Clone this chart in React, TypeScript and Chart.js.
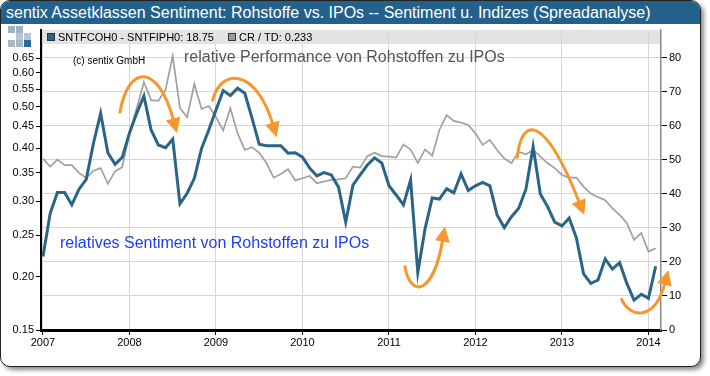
import React, { useEffect, useRef } from "react";
import { Chart, registerables } from "chart.js";

Chart.register(...registerables);

// ---- data ----
const startYear = 2007;
const yearTicks = [2007, 2008, 2009, 2010, 2011, 2012, 2013, 2014];
const leftTicks = [0.15, 0.2, 0.25, 0.3, 0.35, 0.4, 0.45, 0.5, 0.55, 0.6, 0.65];
const rightTicks = [0, 10, 20, 30, 40, 50, 60, 70, 80];

// SNTFCOH0 - SNTFIPH0 (right axis), monthly
const sentimentSpread = [
  21.6, 34.3, 40.4, 40.4, 36.8, 41.4, 44.3, 54.9, 63.7, 52.1, 48.7, 50.8,
  57.9, 63.7, 68.8, 58.8, 54.4, 53.6, 56.1, 37.1, 40.2, 44.6, 53.4, 58.8,
  64.7, 70.4, 68.9, 71.1, 69.6, 62.3, 54.6, 54.2, 54.2, 54.2, 52.0, 52.1,
  50.8, 47.6, 45.3, 46.3, 45.6, 42.0, 31.7, 42.6, 45.6, 48.5, 50.6, 49.1,
  42.4, 39.7, 36.8, 44.1, 16.9, 29.7, 38.8, 38.5, 41.5, 40.3, 45.9, 41.0,
  42.4, 43.4, 42.4, 33.8, 30.1, 33.3, 35.8, 41.4, 53.9, 40.0, 36.3, 31.7,
  30.6, 32.9, 27.1, 16.5, 13.7, 14.7, 20.9, 17.9, 19.8, 13.7, 8.8, 10.5,
  9.3, 18.75,
];

// CR / TD (left log axis), monthly
const performanceRatio = [
  0.378, 0.362, 0.376, 0.365, 0.365, 0.35, 0.34, 0.354, 0.359, 0.33, 0.353, 0.361,
  0.433, 0.496, 0.571, 0.518, 0.516, 0.547, 0.657, 0.496, 0.473, 0.565, 0.494, 0.502,
  0.473, 0.44, 0.496, 0.433, 0.396, 0.402, 0.39, 0.369, 0.341, 0.348, 0.357, 0.336,
  0.34, 0.344, 0.331, 0.334, 0.337, 0.338, 0.34, 0.362, 0.36, 0.383, 0.39, 0.383,
  0.382, 0.38, 0.408, 0.397, 0.369, 0.397, 0.384, 0.441, 0.478, 0.463, 0.459, 0.453,
  0.433, 0.407, 0.418, 0.396, 0.378, 0.369, 0.392, 0.387, 0.396, 0.382, 0.369, 0.359,
  0.346, 0.341, 0.341, 0.325, 0.313, 0.307, 0.302, 0.289, 0.279, 0.267, 0.244, 0.253,
  0.229, 0.233,
];

const monthPositions = sentimentSpread.map((_, i) => startYear + i / 12);

// annotation arrows: [start, ctrl1, ctrl2, tip] in (year, right-axis value)
const arrowPaths: number[][][] = [
  [[2007.89, 64.1], [2007.983, 77.9], [2008.329, 78.8], [2008.549, 57.9]],
  [[2008.962, 67.6], [2009.046, 76.5], [2009.451, 77.9], [2009.702, 56.7]],
  [[2011.185, 18.6], [2011.243, 9.7], [2011.509, 9.7], [2011.647, 30.4]],
  [[2012.483, 50.8], [2012.538, 63.2], [2012.803, 63.2], [2013.258, 33.8]],
  [[2013.69, 9.0], [2013.786, 3.5], [2014.075, 2.4], [2014.229, 17.6]],
];

const titleText = "sentix Assetklassen Sentiment: Rohstoffe vs. IPOs -- Sentiment u. Indizes (Spreadanalyse)";
const legendItems = [
  { label: "SNTFCOH0 - SNTFIPH0: 18.75", color: "#2a6486" },
  { label: "CR / TD: 0.233", color: "#9a9a9a" },
];

const FONT = 'Arial, "Liberation Sans", sans-serif';

export default function App() {
  const canvasRef = useRef<HTMLCanvasElement | null>(null);

  useEffect(() => {
    const canvas = canvasRef.current;
    if (!canvas) return;

    const overlay = {
      id: "overlay",
      beforeDraw(chart: any) {
        const { ctx, chartArea } = chart;
        ctx.save();
        ctx.fillStyle = "#e3e3e3";
        ctx.fillRect(chartArea.left + 1, chartArea.top, chartArea.right - chartArea.left - 1, 14);
        ctx.restore();
      },
      afterDraw(chart: any) {
        const { ctx, chartArea } = chart;
        const xs = chart.scales.x;
        const yr = chart.scales.yR;
        ctx.save();
        // legend entries
        ctx.font = `11px ${FONT}`;
        ctx.textBaseline = "middle";
        let lx = chartArea.left + 6;
        const ly = chartArea.top + 7;
        legendItems.forEach((it, idx) => {
          const w = ctx.measureText(it.label).width;
          ctx.fillStyle = "#e3e3e3";
          ctx.fillRect(lx - 2, chartArea.top, w + 18, 14);
          ctx.fillStyle = it.color;
          ctx.fillRect(lx, ly - 4, 8, 8);
          ctx.strokeStyle = "#333";
          ctx.lineWidth = 1;
          ctx.strokeRect(lx + 0.5, ly - 3.5, 7, 7);
          ctx.fillStyle = "#000";
          ctx.fillText(it.label, lx + 11, ly + 0.5);
          lx += idx === 0 ? 181 : 0;
        });

        // texts
        ctx.textBaseline = "middle";
        ctx.font = `10px ${FONT}`;
        ctx.fillStyle = "#000";
        ctx.fillText("(c) sentix GmbH", xs.getPixelForValue(2007.347), yr.getPixelForValue(79.1));
        ctx.font = `16px ${FONT}`;
        ctx.fillStyle = "#555";
        ctx.fillText("relative Performance von Rohstoffen zu IPOs", xs.getPixelForValue(2008.63), yr.getPixelForValue(80));
        ctx.fillStyle = "#1f3ef2";
        ctx.fillText("relatives Sentiment von Rohstoffen zu IPOs", xs.getPixelForValue(2007.197), yr.getPixelForValue(25.3));

        // arrows
        ctx.strokeStyle = "#f7962e";
        ctx.fillStyle = "#f7962e";
        ctx.lineWidth = 3;
        ctx.lineCap = "round";
        arrowPaths.forEach((p) => {
          const pts = p.map(([a, b]) => ({ x: xs.getPixelForValue(a), y: yr.getPixelForValue(b) }));
          const [s, c1, c2, e] = pts;
          const dx = e.x - c2.x;
          const dy = e.y - c2.y;
          const len = Math.hypot(dx, dy) || 1;
          const ux = dx / len;
          const uy = dy / len;
          const head = 15;
          const half = 7.5;
          const bx = e.x - ux * head;
          const by = e.y - uy * head;
          ctx.beginPath();
          ctx.moveTo(s.x, s.y);
          ctx.bezierCurveTo(c1.x, c1.y, c2.x, c2.y, bx + ux * 2, by + uy * 2);
          ctx.stroke();
          ctx.beginPath();
          ctx.moveTo(e.x, e.y);
          ctx.lineTo(bx - uy * half, by + ux * half);
          ctx.lineTo(bx + uy * half, by - ux * half);
          ctx.closePath();
          ctx.fill();
        });
        ctx.restore();
      },
    };

    const tickFont = { family: FONT, size: 11 };

    const chart = new Chart(canvas, {
      type: "line",
      data: {
        datasets: [
          {
            label: "SNTFCOH0 - SNTFIPH0",
            data: sentimentSpread.map((v, i) => ({ x: monthPositions[i], y: v })),
            yAxisID: "yR",
            borderColor: "#2a6486",
            borderWidth: 3,
            pointRadius: 0,
            tension: 0,
            order: 1,
          },
          {
            label: "CR / TD",
            data: performanceRatio.map((v, i) => ({ x: monthPositions[i], y: v })),
            yAxisID: "yL",
            borderColor: "#a0a0a0",
            borderWidth: 1.7,
            pointRadius: 0,
            tension: 0,
            order: 2,
          },
        ],
      },
      options: {
        animation: false,
        responsive: false,
        maintainAspectRatio: false,
        layout: { padding: { left: 5, right: 19, top: 30, bottom: 26 } },
        plugins: { legend: { display: false }, tooltip: { enabled: false }, title: { display: false } },
        scales: {
          x: {
            type: "linear",
            min: 2006.977,
            max: 2014.145,
            afterBuildTicks: (s: any) => {
              s.ticks = yearTicks.map((v) => ({ value: v }));
            },
            afterFit: (s: any) => {
              s.height = 20;
            },
            ticks: {
              callback: (v: any) => String(v),
              font: tickFont,
              color: "#000",
              maxRotation: 0,
              autoSkip: false,
              padding: 1,
            },
            grid: { color: "#d6d6d6", lineWidth: 1, tickColor: "#000", tickLength: 5 },
            border: { color: "#000", width: 3 },
          },
          yL: {
            type: "logarithmic",
            position: "left",
            min: 0.15,
            max: 0.756,
            afterBuildTicks: (s: any) => {
              s.ticks = leftTicks.map((v) => ({ value: v }));
            },
            afterFit: (s: any) => {
              s.width = 36;
            },
            ticks: {
              callback: (v: any) => Number(v).toFixed(2),
              font: tickFont,
              color: "#000",
              padding: 2,
              autoSkip: false,
            },
            grid: { drawOnChartArea: false, tickColor: "#000", tickLength: 5 },
            border: { color: "#000", width: 2 },
          },
          yR: {
            type: "linear",
            position: "right",
            min: 0,
            max: 88.2,
            afterBuildTicks: (s: any) => {
              s.ticks = rightTicks.map((v) => ({ value: v }));
            },
            afterFit: (s: any) => {
              s.width = 30;
            },
            ticks: {
              callback: (v: any) => String(v),
              font: tickFont,
              color: "#000",
              padding: 2,
              autoSkip: false,
            },
            grid: { color: "#d6d6d6", lineWidth: 1, tickColor: "#000", tickLength: 6 },
            border: { color: "#8a8a8a", width: 1.5 },
          },
        },
      },
      plugins: [overlay],
    } as any);

    return () => chart.destroy();
  }, []);

  const sq = (x: number, y: number, c: string) => (
    <div style={{ position: "absolute", left: x, top: y, width: 7, height: 7, background: c }} />
  );

  return (
    <div style={{ position: "fixed", left: 0, top: 0, width: 710, height: 376, background: "#fff", overflow: "hidden" }}>
      <div
        style={{
          position: "absolute",
          left: 0,
          top: 0,
          width: 699,
          height: 365,
          border: "1px solid #222",
          borderRadius: 10,
          boxShadow: "3px 3px 4px rgba(0,0,0,0.45)",
          background: "#fff",
        }}
      />
      <div
        style={{
          position: "absolute",
          left: 1,
          top: 1,
          width: 699,
          height: 23,
          background: "#23618b",
          borderRadius: "9px 9px 0 0",
          color: "#fff",
          fontFamily: FONT,
          fontSize: 16,
          lineHeight: "23px",
          paddingLeft: 5,
          boxSizing: "border-box",
          whiteSpace: "nowrap",
          overflow: "hidden",
        }}
      >
        {titleText}
      </div>
      {sq(8, 26, "#9fb2c4")}
      {sq(16, 26, "#9fb2c4")}
      {sq(16, 33, "#b9c6d2")}
      {sq(24, 33, "#b9c6d2")}
      {sq(8, 40, "#a9b9c8")}
      {sq(16, 40, "#a9b9c8")}
      {sq(24, 40, "#2f6b98")}
      <canvas
        ref={canvasRef}
        width={710}
        height={376}
        style={{ position: "absolute", left: 0, top: 0, width: 710, height: 376 }}
      />
    </div>
  );
}
